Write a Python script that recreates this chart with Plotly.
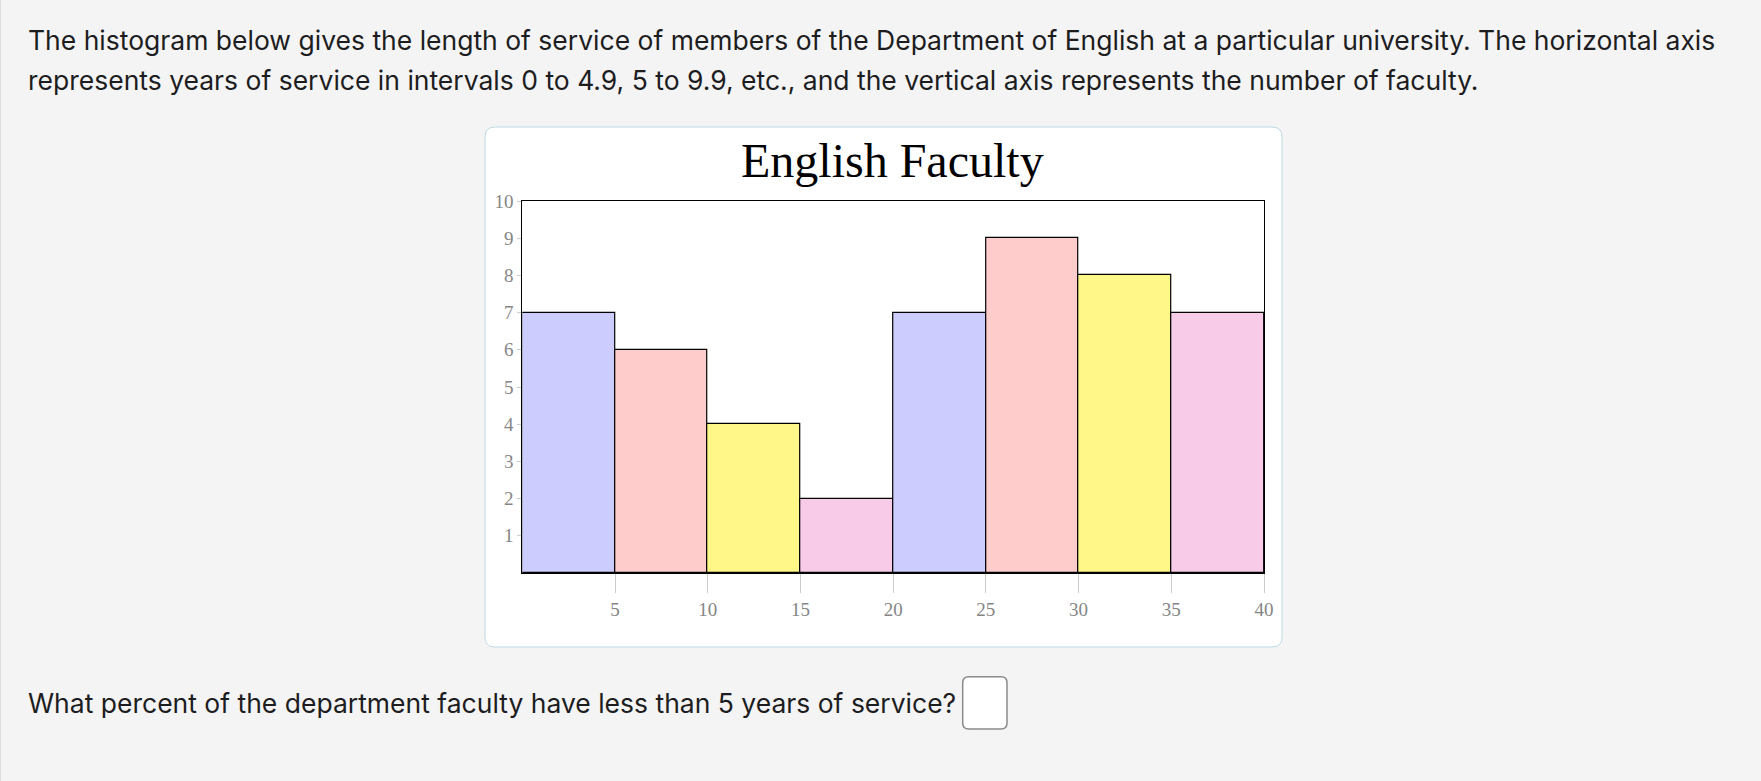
import plotly.graph_objects as go

# ---- data ----
bin_starts = [0, 5, 10, 15, 20, 25, 30, 35]
bin_width = 5
counts = [7, 6, 4, 2, 7, 9, 8, 7]
bar_colors = ["#ccccff", "#ffcccc", "#fff788", "#f8cce8",
              "#ccccff", "#ffcccc", "#fff788", "#f8cce8"]
x_ticks = [5, 10, 15, 20, 25, 30, 35, 40]
y_ticks = [1, 2, 3, 4, 5, 6, 7, 8, 9, 10]
title = "English Faculty"
intro_1 = ("The histogram below gives the length of service of members of the Department of "
           "English at a particular university. The horizontal axis")
intro_2 = ("represents years of service in intervals 0 to 4.9, 5 to 9.9, etc., and the vertical "
           "axis represents the number of faculty.")
question = "What percent of the department faculty have less than 5 years of service?"

W, H = 1761, 781


def px_x(v):
    return v / W


def px_y(v):
    return 1 - v / H


def rounded_rect(x0, y0, x1, y1, r):
    ax0, ax1 = px_x(x0), px_x(x1)
    ay0, ay1 = px_y(y0), px_y(y1)
    rx, ry = r / W, r / H
    return (f"M {ax0+rx},{ay0} L {ax1-rx},{ay0} Q {ax1},{ay0} {ax1},{ay0-ry} "
            f"L {ax1},{ay1+ry} Q {ax1},{ay1} {ax1-rx},{ay1} "
            f"L {ax0+rx},{ay1} Q {ax0},{ay1} {ax0},{ay1+ry} "
            f"L {ax0},{ay0-ry} Q {ax0},{ay0} {ax0+rx},{ay0} Z")


centers = [s + bin_width / 2 for s in bin_starts]

fig = go.Figure(go.Bar(
    x=centers, y=counts, width=[bin_width] * len(counts),
    marker=dict(color=bar_colors, line=dict(color="#000000", width=1.2)),
    hoverinfo="skip",
))

tick_font = dict(family="Liberation Serif, Times New Roman, serif", size=19, color="#858585")
text_font = dict(family="Inter, sans-serif", size=26.5, color="#1d1d1f")

fig.update_layout(
    width=W, height=H,
    autosize=False,
    margin=dict(l=0, r=0, t=0, b=0, pad=0, autoexpand=False),
    paper_bgcolor="#f4f4f4",
    plot_bgcolor="#ffffff",
    showlegend=False,
    bargap=0,
    xaxis=dict(
        domain=[px_x(522.3), px_x(1264)],
        range=[0, 40], tickvals=x_ticks, automargin=False,
        ticks="outside", ticklen=19, tickcolor="#cccccc", tickwidth=1,
        showline=True, linecolor="#000000", linewidth=1.2, mirror=True,
        showgrid=False, zeroline=False, tickfont=tick_font, fixedrange=True,
    ),
    yaxis=dict(
        domain=[px_y(573), px_y(201)],
        range=[0, 10], tickvals=y_ticks, automargin=False,
        ticks="outside", ticklen=4, tickcolor="#cccccc", tickwidth=1,
        showline=True, linecolor="#000000", linewidth=1.2, mirror=True,
        showgrid=False, zeroline=False, tickfont=tick_font, fixedrange=True,
    ),
    shapes=[
        dict(type="path", xref="paper", yref="paper", layer="below",
             path=rounded_rect(485, 127, 1282, 647, 10),
             fillcolor="#ffffff", line=dict(color="#bcd9e6", width=1)),
        dict(type="path", xref="paper", yref="paper", layer="above",
             path=rounded_rect(962.7, 676.7, 1007, 729, 6),
             fillcolor="#ffffff", line=dict(color="#8a8a8a", width=1.5)),
        dict(type="line", xref="paper", yref="paper",
             x0=px_x(0.5), x1=px_x(0.5), y0=0, y1=1,
             line=dict(color="#dddddd", width=1)),
    ],
    annotations=[
        dict(text=title, xref="paper", yref="paper", x=px_x(893), y=px_y(160.5),
             xanchor="center", yanchor="middle", showarrow=False,
             font=dict(family="Liberation Serif, Times New Roman, serif", size=48, color="#000000")),
        dict(text=intro_1, xref="paper", yref="paper", x=px_x(26), y=px_y(39.7),
             xanchor="left", yanchor="middle", showarrow=False, font=text_font),
        dict(text=intro_2, xref="paper", yref="paper", x=px_x(26), y=px_y(80.4),
             xanchor="left", yanchor="middle", showarrow=False, font=text_font),
        dict(text=question, xref="paper", yref="paper", x=px_x(26), y=px_y(702.7),
             xanchor="left", yanchor="middle", showarrow=False, font=text_font),
    ],
)

fig.write_html("out.html", config={"displayModeBar": False})
